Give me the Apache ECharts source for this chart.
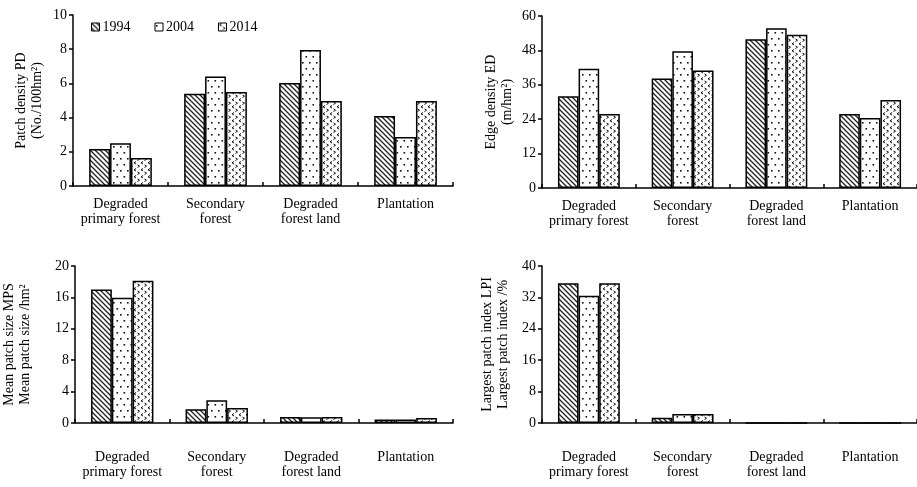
<!DOCTYPE html>
<html>
<head>
<meta charset="utf-8">
<script src="https://cdn.jsdelivr.net/npm/echarts@6/dist/echarts.min.js"></script>
<style>
html,body{margin:0;padding:0;background:#fff;}
#c{width:917px;height:487px;}
</style>
</head>
<body>
<div id="c"></div>
<script>
// ---- data ----
const categories = ['Degraded\nprimary forest', 'Secondary\nforest', 'Degraded\nforest land', 'Plantation'];
const years = ['1994', '2004', '2014'];

const pd1994 = [2.16, 5.4, 6.02, 4.09];
const pd2004 = [2.5, 6.41, 7.95, 2.87];
const pd2014 = [1.64, 5.5, 4.97, 4.97];

const ed1994 = [32.0, 38.2, 51.9, 25.8];
const ed2004 = [41.6, 47.7, 55.7, 24.4];
const ed2014 = [25.8, 41.0, 53.5, 30.7];

const mps1994 = [17.0, 1.74, 0.75, 0.45];
const mps2004 = [15.96, 2.89, 0.72, 0.45];
const mps2014 = [18.13, 1.91, 0.75, 0.65];

const lpi1994 = [35.6, 1.36, 0, 0];
const lpi2004 = [32.4, 2.3, 0, 0];
const lpi2014 = [35.6, 2.3, 0, 0];

// ---- patterns ----
function makeCanvas(w, h) {
  const c = document.createElement('canvas');
  c.width = w; c.height = h;
  const ctx = c.getContext('2d');
  ctx.fillStyle = '#fff';
  ctx.fillRect(0, 0, w, h);
  return [c, ctx];
}
function hatchPattern() {
  const s = 5;
  const [c, ctx] = makeCanvas(s, s);
  ctx.strokeStyle = '#222';
  ctx.lineWidth = 1.3;
  ctx.beginPath();
  ctx.moveTo(-1, -1); ctx.lineTo(s + 1, s + 1);
  ctx.moveTo(-1, s - 1); ctx.lineTo(1, s + 1);
  ctx.moveTo(s - 1, -1); ctx.lineTo(s + 1, 1);
  ctx.stroke();
  return c;
}
function dotPattern() {
  const [c, ctx] = makeCanvas(7, 12);
  ctx.fillStyle = '#111';
  ctx.fillRect(1, 2, 1.6, 1.6);
  ctx.fillRect(4.5, 8, 1.6, 1.6);
  return c;
}
function chevronPattern() {
  const [c, ctx] = makeCanvas(7, 7);
  ctx.strokeStyle = '#111';
  ctx.lineWidth = 1;
  ctx.beginPath();
  ctx.moveTo(3, 0.5); ctx.lineTo(1, 1.8); ctx.lineTo(3, 3);
  ctx.moveTo(4.5, 4); ctx.lineTo(6.5, 5.2); ctx.lineTo(4.5, 6.5);
  ctx.stroke();
  return c;
}
const fills = [
  { image: hatchPattern(), repeat: 'repeat' },
  { image: dotPattern(), repeat: 'repeat' },
  { image: chevronPattern(), repeat: 'repeat' }
];

const FONT = 'Liberation Serif';
const grids = [
  { left: 73, top: 15, width: 380, height: 171 },
  { left: 542, top: 16, width: 382, height: 172 },
  { left: 73, top: 266, width: 380, height: 157 },
  { left: 542, top: 266, width: 382, height: 157 }
];
const yDefs = [
  { max: 10, interval: 2, name: 'Patch density PD\n(No./100hm²)', gap: 28 },
  { max: 60, interval: 12, name: 'Edge density ED\n(m/hm²)', gap: 27 },
  { max: 20, interval: 4, name: 'Mean patch size MPS\nMean patch size /hm²', gap: 42 },
  { max: 40, interval: 8, name: 'Largest patch index LPI\nLargest patch index /%', gap: 31 }
];
const labelMargins = [11, 11, 27, 27];
const seriesData = [
  [pd1994, pd2004, pd2014],
  [ed1994, ed2004, ed2014],
  [mps1994, mps2004, mps2014],
  [lpi1994, lpi2004, lpi2014]
];

const axisLine = { lineStyle: { color: '#000', width: 1.5 } };

const option = {
  animation: false,
  backgroundColor: '#fff',
  textStyle: { fontFamily: FONT },
  legend: {
    left: 86, top: 15,
    icon: 'rect',
    itemWidth: 8, itemHeight: 8, itemGap: 24,
    data: years,
    textStyle: { fontFamily: FONT, fontSize: 14, color: '#000', padding: [0, 0, 0, -2] },
    itemStyle: { borderColor: '#000', borderWidth: 1 }
  },
  grid: grids,
  xAxis: grids.map((g, i) => ({
    type: 'category',
    gridIndex: i,
    data: categories,
    axisLine: axisLine,
    axisTick: { show: true, inside: true, length: 4, alignWithLabel: false, lineStyle: { color: '#000', width: 1.5 } },
    axisLabel: { fontFamily: FONT, fontSize: 14, color: '#000', lineHeight: 15, margin: labelMargins[i], interval: 0 },
    splitLine: { show: false }
  })),
  yAxis: yDefs.map((d, i) => ({
    type: 'value',
    gridIndex: i,
    min: 0, max: d.max, interval: d.interval,
    name: d.name,
    nameLocation: 'middle',
    nameRotate: 90,
    nameGap: d.gap,
    nameTextStyle: { fontFamily: FONT, fontSize: 14, color: '#000', lineHeight: 16 },
    axisLine: { show: true, lineStyle: { color: '#000', width: 1.5 } },
    axisTick: { show: true, inside: false, length: 4, lineStyle: { color: '#000', width: 1.5 } },
    axisLabel: { fontFamily: FONT, fontSize: 14, color: '#000', margin: 6 },
    splitLine: { show: false }
  })),
  series: []
};

seriesData.forEach((group, gi) => {
  group.forEach((vals, yi) => {
    option.series.push({
      type: 'bar',
      name: years[yi],
      xAxisIndex: gi,
      yAxisIndex: gi,
      data: vals,
      barGap: '0%',
      barCategoryGap: '34%',
      itemStyle: { color: fills[yi], borderColor: '#000', borderWidth: 1.5 },
      emphasis: { disabled: true }
    });
  });
});

const chart = echarts.init(document.getElementById('c'), null, { renderer: 'canvas' });
chart.setOption(option);
</script>
</body>
</html>
